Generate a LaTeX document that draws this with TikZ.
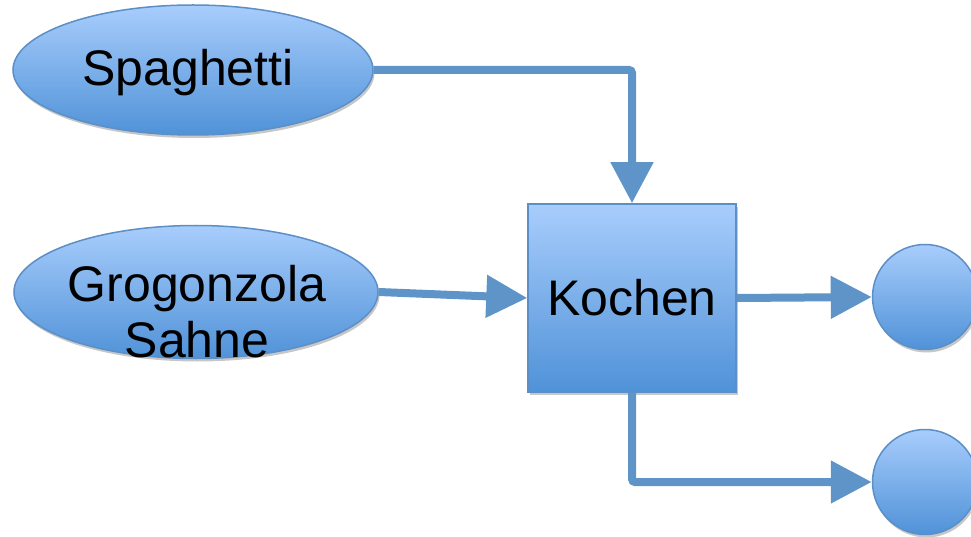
\documentclass[tikz,border=0pt]{standalone}
\usepackage{fontspec}
\setmainfont{Liberation Sans}
\usetikzlibrary{shapes.geometric,arrows.meta,shadows}
\definecolor{boxtop}{HTML}{A8CDFC}
\definecolor{boxbot}{HTML}{5092D8}
\definecolor{boxrim}{HTML}{5B8FC6}
\definecolor{flow}{HTML}{5E94C8}
\begin{document}
\begin{tikzpicture}[x=1pt,y=-1pt,
  big/.style={font=\fontsize{50}{56}\selectfont, text=black},
  blob/.style={draw=boxrim, line width=1.5pt, top color=boxtop, bottom color=boxbot,
    inner sep=0pt, big,
    drop shadow={shadow xshift=1.5pt, shadow yshift=-3pt, opacity=0.22, fill=black}},
  source/.style={blob, ellipse},
  stepbox/.style={blob, rectangle, minimum width=208pt, minimum height=188pt},
  sink/.style={blob, circle, minimum size=105pt},
  flowline/.style={draw=flow, line width=8pt, rounded corners=3pt,
    -{Triangle[length=41pt,width=41pt]}}]
  \useasboundingbox (0,0) rectangle (971,537);
  \node[source, minimum width=360pt, minimum height=130pt] (sp) at (193,70) {};
  \node[big, inner sep=0pt] (sptext) at (188,73) {Spaghetti};
  \node[source, minimum width=364pt, minimum height=133pt] (gs) at (196,292) {};
  \node[big, inner sep=0pt, align=center] (gstext) at (197,312) {Grogonzola\\Sahne};
  \node[stepbox] (ko) at (632,298) {Kochen};
  \node[sink] (r1) at (925,297) {};
  \node[sink] (r2) at (925,482) {};
  \draw[flowline] (sp.east) -| (ko.north);
  \draw[flowline] (gs.east) -- (ko.west);
  \draw[flowline] (ko.east) -- (r1.west);
  \draw[flowline] (ko.south) |- (r2.west);
\end{tikzpicture}
\end{document}
